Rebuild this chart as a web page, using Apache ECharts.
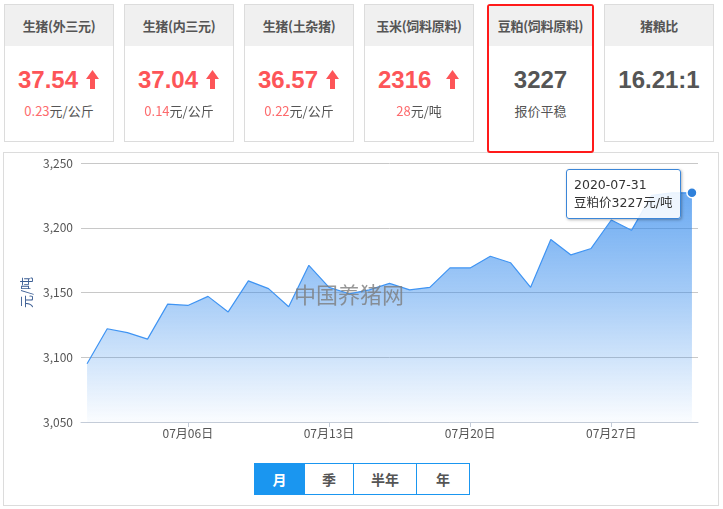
<!DOCTYPE html>
<html>
<head>
<meta charset="utf-8">
<script src="https://cdn.jsdelivr.net/npm/echarts@6/dist/echarts.min.js"></script>
<style>
  html,body{margin:0;padding:0;background:#fff;width:723px;height:509px;overflow:hidden;
    font-family:"Noto Sans CJK SC","Noto Sans",sans-serif;}
  .card{position:absolute;top:4px;width:110px;height:138px;border:1px solid #dcdcdc;box-sizing:border-box;background:#fff;z-index:3;}
  .card .hd{position:absolute;left:0;right:0;top:0;height:41px;background:#f0f0f0;color:#555;font-weight:bold;
    font-size:13px;line-height:41px;text-align:center;white-space:nowrap;letter-spacing:-0.3px;}
  .card .val{position:absolute;top:58px;height:34px;line-height:34px;font-size:24px;font-weight:bold;white-space:nowrap;
    font-family:"Liberation Sans","Noto Sans CJK SC",sans-serif;}
  .card .red{color:#fd5558;}
  .card .gray{color:#555;}
  .card .arrow{position:absolute;left:81px;top:65px;width:13px;height:19px;}
  .card .sub{position:absolute;left:0;right:0;top:96px;height:20px;line-height:20px;text-align:center;font-size:13px;color:#555;white-space:nowrap;}
  .card .sub b{font-weight:normal;color:#fd6b6d;}
  .hl{border:2px solid #ff1a1a;border-radius:3px;height:149px;width:107px;}
  .hl .hd{height:40px;line-height:40px;}
  .hl .val{top:57px;}
  .hl .sub{top:95px;}
  #box{position:absolute;left:3px;top:152px;width:716px;height:354px;border:1px solid #dcdcdc;box-sizing:border-box;z-index:1;}
  #chart{position:absolute;left:0;top:0;width:723px;height:509px;z-index:2;}
  #btns{position:absolute;left:254px;top:463px;height:32px;border:1px solid #1a96f0;box-sizing:border-box;display:flex;z-index:4;background:#fff;}
  #btns div{height:30px;line-height:30px;text-align:center;font-size:14px;font-weight:bold;color:#555;border-left:1px solid #1a96f0;box-sizing:border-box;}
  #btns div:first-child{border-left:none;background:#1a96f0;color:#fff;}
</style>
</head>
<body>
<div id="box"></div>
<div id="cards"></div>
<div id="chart"></div>
<div id="btns"></div>
<script>
// ---------------- data ----------------
const cardTitles = ['生猪(外三元)', '生猪(内三元)', '生猪(土杂猪)', '玉米(饲料原料)', '豆粕(饲料原料)', '猪粮比'];
const cardValues = ['37.54', '37.04', '36.57', '2316', '3227', '16.21:1'];
const cardChanges = ['0.23', '0.14', '0.22', '28', '', ''];
const cardUnits = ['元/公斤', '元/公斤', '元/公斤', '元/吨', '报价平稳', ''];
const cardRising = [true, true, true, true, false, false];

const dates = ['2020-07-01','2020-07-02','2020-07-03','2020-07-04','2020-07-05','2020-07-06','2020-07-07',
  '2020-07-08','2020-07-09','2020-07-10','2020-07-11','2020-07-12','2020-07-13','2020-07-14','2020-07-15',
  '2020-07-16','2020-07-17','2020-07-18','2020-07-19','2020-07-20','2020-07-21','2020-07-22','2020-07-23',
  '2020-07-24','2020-07-25','2020-07-26','2020-07-27','2020-07-28','2020-07-29','2020-07-30','2020-07-31'];
const prices = [3095,3122,3119,3114,3141,3140,3147,3135,3159,3153,3139,3171,3154,3149,3152,
  3157,3152,3154,3169,3169,3178,3173,3154,3191,3179,3184,3206,3198,3225,3227,3227];
const xTickDates = ['2020-07-06','2020-07-13','2020-07-20','2020-07-27'];
const yMin = 3050, yMax = 3250, yStep = 50;
const seriesName = '豆粕价';
const unitName = '元/吨';
const buttons = ['月', '季', '半年', '年'];
const watermark = '中国养猪网';

// ---------------- cards ----------------
const cardLefts = [4, 124, 244, 364, 487, 604];
const arrowSvg = '<svg class="arrow" viewBox="0 0 13 19"><polygon points="6.5,0 13,9 9,9 9,19 4,19 4,9 0,9" fill="#fd5558"/></svg>';
const cardsEl = document.getElementById('cards');
cardTitles.forEach((t, i) => {
  const c = document.createElement('div');
  c.className = 'card' + (i === 4 ? ' hl' : '');
  c.style.left = cardLefts[i] + 'px';
  let html = '<div class="hd">' + t + '</div>';
  if (cardRising[i]) {
    html += '<div class="val red" style="left:13px">' + cardValues[i] + '</div>' + arrowSvg;
    html += '<div class="sub"><b>' + cardChanges[i] + '</b>' + cardUnits[i] + '</div>';
  } else {
    html += '<div class="val gray" style="left:0;right:0;text-align:center;">' + cardValues[i] + '</div>';
    if (cardUnits[i]) html += '<div class="sub">' + cardUnits[i] + '</div>';
  }
  c.innerHTML = html;
  cardsEl.appendChild(c);
});
const btnWidths = [49, 49, 63, 53];
const btnEl = document.getElementById('btns');
buttons.forEach((b, i) => {
  const d = document.createElement('div');
  d.textContent = b;
  d.style.width = btnWidths[i] + 'px';
  btnEl.appendChild(d);
});

// ---------------- chart ----------------
function ts(s) { const p = s.split('-').map(Number); return new Date(p[0], p[1] - 1, p[2]).getTime(); }
const DAY = 86400000;
const seriesData = dates.map((d, i) => [ts(d), prices[i]]);
const chart = echarts.init(document.getElementById('chart'), null, { renderer: 'canvas' });
const fontFamily = '"Noto Sans CJK SC", "Noto Sans", sans-serif';
chart.setOption({
  animation: false,
  textStyle: { fontFamily: fontFamily },
  grid: { left: 81, right: 25, top: 163, bottom: 87, containLabel: false },
  tooltip: {
    trigger: 'axis',
    triggerOn: 'none',
    alwaysShowContent: true,
    axisPointer: { type: 'line', lineStyle: { opacity: 0 } },
    backgroundColor: 'rgba(255,255,255,0.88)',
    borderColor: '#3b86d8',
    borderWidth: 1,
    borderRadius: 3,
    padding: [6, 7],
    textStyle: { color: '#333', fontSize: 12.5, fontFamily: '"DejaVu Sans", "Noto Sans CJK SC", sans-serif' },
    extraCssText: 'box-shadow:1px 1px 3px rgba(0,0,0,0.3);line-height:18px;',
    transitionDuration: 0,
    position: function (point) { return [point[0] - 126, point[1] - 24]; },
    formatter: function (params) {
      const i = params[0].dataIndex;
      return dates[i] + '<br/>' + seriesName + prices[i] + unitName;
    }
  },
  xAxis: {
    type: 'value',
    min: ts(dates[0]) - 0.3 * DAY,
    max: ts(dates[dates.length - 1]) + 0.3 * DAY,
    axisLine: { show: true, lineStyle: { color: '#c4ccd8', width: 1 } },
    axisTick: { show: true, length: 5, lineStyle: { color: '#c4ccd8' }, customValues: xTickDates.map(ts) },
    splitLine: { show: false },
    axisLabel: {
      customValues: xTickDates.map(ts),
      color: '#555', fontSize: 12, margin: 5,
      formatter: function (v) {
        const d = new Date(v);
        const mm = String(d.getMonth() + 1).padStart(2, '0');
        const dd = String(d.getDate()).padStart(2, '0');
        return mm + '月' + dd + '日';
      }
    }
  },
  yAxis: {
    type: 'value',
    min: yMin, max: yMax, interval: yStep,
    name: unitName,
    nameLocation: 'middle',
    nameGap: 47,
    nameTextStyle: { color: '#3d5f94', fontSize: 13 },
    axisLine: { show: false },
    axisTick: { show: false },
    axisLabel: { color: '#555', fontSize: 12, margin: 8 },
    splitLine: { lineStyle: { color: '#c8c8c8', width: 1 } }
  },
  series: [{
    type: 'line',
    name: seriesName,
    data: seriesData,
    showSymbol: false,
    symbol: 'circle',
    symbolSize: 10,
    itemStyle: { color: '#2f80da', borderColor: '#fff', borderWidth: 1.5 },
    lineStyle: { color: '#3a87dd', width: 1.2 },
    emphasis: { scale: false, itemStyle: { color: '#2f80da', borderColor: '#fff', borderWidth: 1.5 } },
    areaStyle: {
      color: new echarts.graphic.LinearGradient(0, 0, 0, 1, [
        { offset: 0, color: 'rgba(40,122,215,1)' },
        { offset: 0.45, color: 'rgba(40,122,215,0.6)' },
        { offset: 1, color: 'rgba(40,122,215,0.03)' }
      ])
    }
  }],
  graphic: [{
    type: 'text',
    left: 294, top: 284, z: 100,
    style: { text: watermark, fill: 'rgba(125,125,125,0.8)', fontSize: 22, fontFamily: fontFamily }
  }]
});
chart.dispatchAction({ type: 'showTip', seriesIndex: 0, dataIndex: prices.length - 1 });
</script>
</body>
</html>
